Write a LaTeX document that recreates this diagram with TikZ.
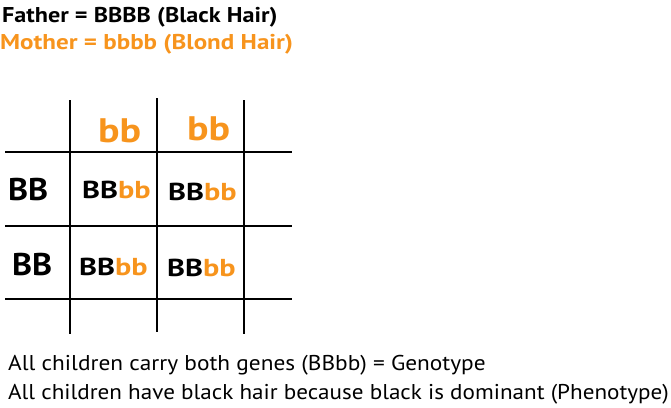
\documentclass[tikz,border=0pt]{standalone}
\usepackage{fontspec}
\setmainfont{PT Sans}
\definecolor{orng}{HTML}{F7941D}
\newcommand{\hs}[2]{\scalebox{#1}[1]{#2}}
\tikzset{
  txt/.style={inner sep=0pt, anchor=base west},
  gridline/.style={line width=1.6pt, black},
  titlefont/.style={font=\fontsize{21.4}{24}\selectfont\bfseries},
  headfont/.style={font=\fontsize{34}{36}\selectfont\bfseries, text=orng},
  rowfont/.style={font=\fontsize{31.4}{34}\selectfont\bfseries},
  cellfont/.style={font=\fontsize{24.5}{26}\selectfont\bfseries},
  bodyfont/.style={font=\fontsize{21.4}{24}\selectfont},
}
\begin{document}
\begin{tikzpicture}[x=1pt,y=-1pt]
\useasboundingbox (0,0) rectangle (671,407);
% title lines
\node[txt, titlefont] (father) at (2,22) {\hs{1.13}{Father = BBBB (Black Hair)}};
\node[txt, titlefont, text=orng] (mother) at (0,49) {\hs{1.17}{Mother = bbbb (Blond Hair)}};
% grid
\draw[gridline] (70,100) -- (70,334);
\draw[gridline] (157,98) -- (157,332);
\draw[gridline] (244,100) -- (244,334);
\draw[gridline] (5,152) -- (292,152);
\draw[gridline] (5,226) -- (292,226);
\draw[gridline] (5,299) -- (292,299);
% headers
\node[txt, headfont] (h1) at (98,142) {\hs{1.18}{bb}};
\node[txt, headfont] (h2) at (187,140) {\hs{1.18}{bb}};
\node[txt, rowfont] (r1) at (8,200) {\hs{1.08}{BB}};
\node[txt, rowfont] (r2) at (12,275) {\hs{1.08}{BB}};
% cells
\node[txt, cellfont] (c11) at (82,198) {\hs{1.24}{BB\textcolor{orng}{bb}}};
\node[txt, cellfont] (c12) at (168,200) {\hs{1.24}{BB\textcolor{orng}{bb}}};
\node[txt, cellfont] (c21) at (79,275) {\hs{1.24}{BB\textcolor{orng}{bb}}};
\node[txt, cellfont] (c22) at (167,276) {\hs{1.24}{BB\textcolor{orng}{bb}}};
% bottom text
\node[txt, bodyfont] (l1) at (8,370) {\hs{1.09}{All children carry both genes (BBbb) = Genotype}};
\node[txt, bodyfont] (l2) at (8,399) {\hs{1.08}{All children have black hair because black is dominant (Phenotype)}};
\end{tikzpicture}
\end{document}
